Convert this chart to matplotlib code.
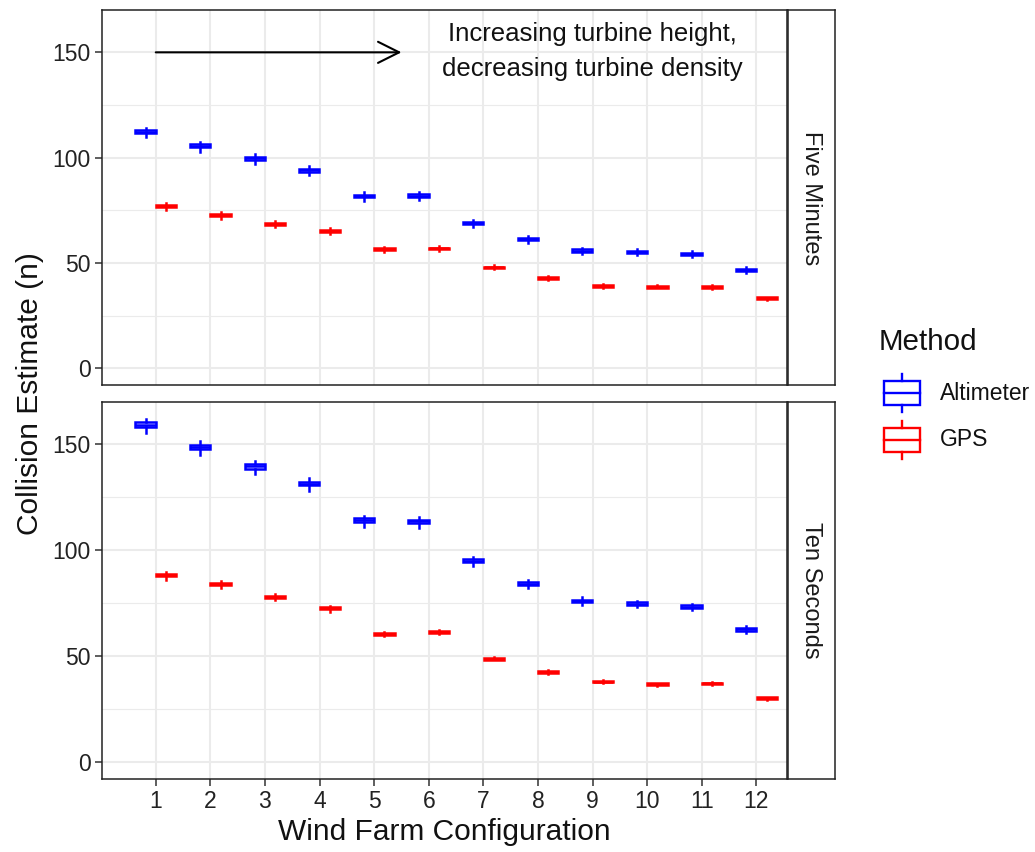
import matplotlib
matplotlib.use('Agg')
import matplotlib.pyplot as plt
from matplotlib.patches import Rectangle

plt.rcParams['font.family'] = ['Liberation Sans', 'DejaVu Sans']

configs = list(range(1, 13))
methods = ['Altimeter', 'GPS']
colors = {'Altimeter': '#0000FF', 'GPS': '#FF0000'}
panels = ['Five Minutes', 'Ten Seconds']

# five-number summaries (whislo, q1, med, q3, whishi) per configuration
five_alt = [(109.6, 111.5, 112.2, 112.9, 114.3), (102.7, 104.9, 105.6, 106.3, 107.4),
            (96.9, 99.0, 99.6, 100.2, 101.5), (91.7, 93.4, 94.0, 94.6, 95.9),
            (79.5, 81.1, 81.7, 82.3, 83.5), (79.8, 81.3, 81.9, 82.5, 83.6),
            (66.9, 68.3, 68.8, 69.3, 70.4), (59.5, 60.8, 61.3, 61.8, 62.8),
            (54.4, 55.4, 55.9, 56.4, 57.3), (53.6, 54.6, 55.1, 55.6, 56.4),
            (52.7, 53.8, 54.3, 54.8, 55.6), (45.3, 46.3, 46.8, 47.3, 48.1)]
five_gps = [(74.9, 76.5, 77.0, 77.5, 78.5), (71.0, 72.2, 72.7, 73.2, 74.1),
            (67.0, 68.1, 68.6, 69.1, 70.0), (63.6, 64.6, 65.1, 65.6, 66.4),
            (55.4, 56.2, 56.6, 57.0, 57.7), (55.7, 56.5, 56.9, 57.3, 58.0),
            (46.9, 47.5, 47.9, 48.3, 48.9), (41.8, 42.4, 42.8, 43.2, 43.7),
            (38.2, 38.6, 39.0, 39.4, 39.8), (37.9, 38.3, 38.7, 39.1, 39.5),
            (37.7, 38.1, 38.5, 38.9, 39.3), (32.6, 33.0, 33.3, 33.6, 34.0)]
ten_alt = [(155.3, 158.1, 159.2, 160.3, 162.1), (145.0, 147.6, 148.6, 149.6, 151.3),
           (135.7, 138.5, 139.5, 140.5, 142.2), (128.1, 130.5, 131.4, 132.3, 133.8),
           (111.0, 113.4, 114.2, 115.0, 116.2), (110.5, 112.8, 113.6, 114.4, 115.7),
           (92.4, 94.2, 94.9, 95.6, 96.8), (82.2, 83.4, 84.1, 84.8, 86.0),
           (74.2, 75.3, 75.9, 76.5, 77.6), (73.0, 74.0, 74.6, 75.2, 76.1),
           (71.6, 72.6, 73.2, 73.8, 74.6), (61.0, 61.9, 62.5, 63.1, 63.9)]
ten_gps = [(85.8, 87.6, 88.2, 88.8, 89.7), (82.2, 83.3, 83.9, 84.5, 85.4),
           (76.3, 77.2, 77.8, 78.4, 79.2), (70.9, 71.9, 72.4, 72.9, 73.6),
           (59.3, 59.8, 60.2, 60.6, 61.1), (60.3, 60.9, 61.3, 61.7, 62.3),
           (47.8, 48.2, 48.6, 49.0, 49.4), (41.6, 42.0, 42.4, 42.8, 43.2),
           (37.1, 37.4, 37.8, 38.2, 38.5), (35.9, 36.2, 36.6, 37.0, 37.3),
           (36.2, 36.5, 36.9, 37.3, 37.6), (29.3, 29.6, 30.0, 30.4, 30.7)]

data = {'Five Minutes': {'Altimeter': five_alt, 'GPS': five_gps},
        'Ten Seconds': {'Altimeter': ten_alt, 'GPS': ten_gps}}

W, H = 1035, 852
fig = plt.figure(figsize=(W / 100, H / 100), dpi=100)

def px(l, t, r, b):
    return [l / W, 1 - b / H, (r - l) / W, (b - t) / H]

panel_box = [(101.7, 10, 787.5, 385.3), (101.7, 401.7, 787.5, 778.7)]
dodge = 0.1875
bw = 0.37
axes = []
for i, name in enumerate(panels):
    l, t, r, b = panel_box[i]
    ax = fig.add_axes(px(l, t, r, b))
    axes.append(ax)
    for k, m in enumerate(methods):
        off = -dodge if k == 0 else dodge
        stats = [dict(whislo=s[0], q1=s[1], med=s[2], q3=s[3], whishi=s[4], fliers=[])
                 for s in data[name][m]]
        c = colors[m]
        ax.bxp(stats, positions=[x + off for x in configs], widths=bw,
               showcaps=False, patch_artist=True, manage_ticks=False,
               boxprops=dict(facecolor='white', edgecolor=c, linewidth=1.8),
               medianprops=dict(color=c, linewidth=1.8),
               whiskerprops=dict(color=c, linewidth=1.8), zorder=3)
    ax.set_xlim(0.01, 12.57)
    ax.set_ylim(-8.1, 170.1)
    ax.set_yticks([0, 50, 100, 150])
    ax.set_yticks([25, 75, 125], minor=True)
    ax.set_xticks(configs)
    ax.grid(which='major', color='#EBEBEB', linewidth=1.5, zorder=0)
    ax.grid(which='minor', axis='y', color='#EBEBEB', linewidth=0.8, zorder=0)
    ax.set_axisbelow(True)
    ax.tick_params(axis='y', which='minor', length=0)
    ax.tick_params(which='major', length=5, width=1.1, color='#333333',
                   labelsize=16.5, labelcolor='#222222', pad=3)
    for sp in ax.spines.values():
        sp.set_color('#222222')
        sp.set_linewidth(1.1)
    if i == 0:
        ax.tick_params(axis='x', length=0, labelbottom=False)

    # facet strip on the right
    sax = fig.add_axes(px(787.5, t, 835, b))
    sax.set_xticks([])
    sax.set_yticks([])
    for sp in sax.spines.values():
        sp.set_color('#222222')
        sp.set_linewidth(1.1)
    sax.text(0.5, 0.5, name, rotation=-90, ha='center', va='center',
             fontsize=17, color='#1a1a1a', transform=sax.transAxes)

# direction note in the top panel
top = axes[0]
top.annotate('', xy=(5.5, 150), xytext=(1, 150),
             arrowprops=dict(arrowstyle='->, head_length=0.4, head_width=0.2',
                             lw=1.5, color='black', mutation_scale=38,
                             shrinkA=0, shrinkB=0), zorder=4)
top.text(9, 150.5, 'Increasing turbine height,\ndecreasing turbine density',
         ha='center', va='center', fontsize=18.5, color='#111111',
         linespacing=1.55, zorder=4)

fig.text(30 / W, 1 - 394 / H, 'Collision Estimate (n)', rotation=90,
         ha='center', va='center', fontsize=21.5, color='#111111')
fig.text(444 / W, 1 - 832 / H, 'Wind Farm Configuration',
         ha='center', va='center', fontsize=21.5, color='#111111')

# legend drawn in pixel space on its own axes
lax = fig.add_axes([0, 0, 1, 1], zorder=5)
lax.set_xlim(0, W)
lax.set_ylim(H, 0)
lax.axis('off')
lax.text(879, 342, 'Method', fontsize=21.3, ha='left', va='center', color='#111111')
for m, yc in zip(methods, [393, 440]):
    c = colors[m]
    lax.add_patch(Rectangle((884, yc - 12), 36, 24, fill=False, edgecolor=c, lw=1.7))
    lax.plot([884, 920], [yc, yc], color=c, lw=1.7)
    lax.plot([902, 902], [yc - 19, yc - 12], color=c, lw=1.7)
    lax.plot([902, 902], [yc + 12, yc + 19], color=c, lw=1.7)
    lax.text(940, yc, m, fontsize=16.5, ha='left', va='center', color='#111111')

fig.savefig('out.png', dpi=100)
